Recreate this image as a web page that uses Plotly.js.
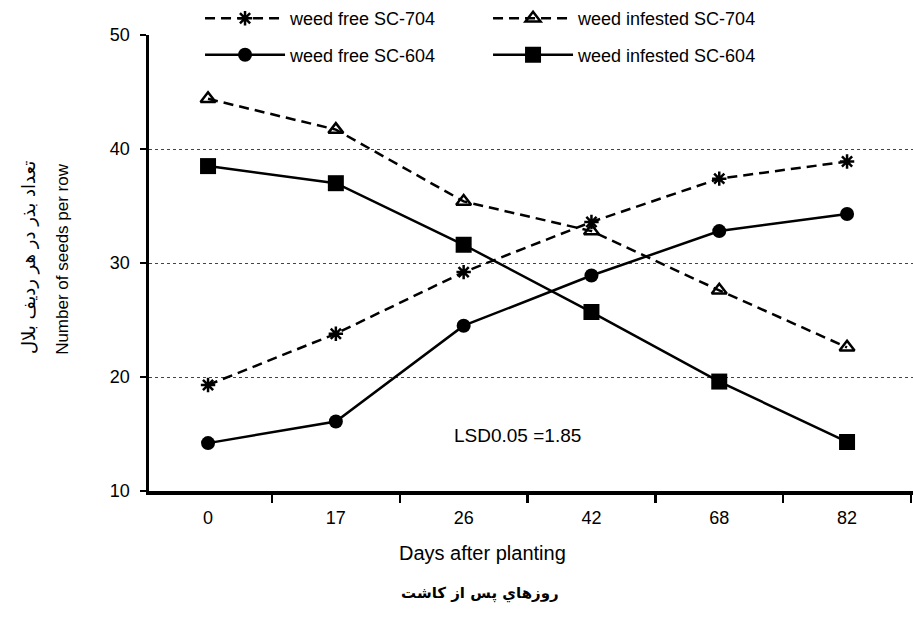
<!DOCTYPE html>
<html>
<head>
<meta charset="utf-8">
<script src="https://cdn.plot.ly/plotly-3.0.1.min.js"></script>
<style>html,body{margin:0;padding:0;background:#fff;}#chart{width:913px;height:618px;}</style>
</head>
<body>
<div id="chart"></div>
<script>
// Days after planting (categories)
const days = ['0', '17', '26', '42', '68', '82'];
// Number of seeds per row
const weedFreeSC704     = [19.3, 23.8, 29.2, 33.6, 37.4, 38.9];
const weedInfestedSC704 = [44.4, 41.7, 35.4, 32.8, 27.6, 22.6];
const weedFreeSC604     = [14.2, 16.1, 24.5, 28.9, 32.8, 34.3];
const weedInfestedSC604 = [38.5, 37.0, 31.6, 25.7, 19.6, 14.3];
const yTickVals = [10, 20, 30, 40, 50];

const F = 'Liberation Sans, Arial, sans-serif';
const FA = 'DejaVu Sans, sans-serif';
const DASH = '10px,6px';

const traces = [
  {x: days, y: weedFreeSC704, name: 'weed free SC-704', legend: 'legend', mode: 'lines+markers',
   line: {color: '#000', width: 2.5, dash: DASH},
   marker: {symbol: 'asterisk', size: 12, color: '#000', line: {color: '#000', width: 2.5}}},
  {x: days, y: weedInfestedSC704, name: 'weed infested SC-704', legend: 'legend', mode: 'lines+markers',
   line: {color: '#000', width: 2.5, dash: DASH},
   marker: {symbol: 'triangle-up-open', size: 13, color: '#000', line: {color: '#000', width: 2.5}}},
  {x: days, y: weedFreeSC604, name: 'weed free SC-604', legend: 'legend2', mode: 'lines+markers',
   line: {color: '#000', width: 2.5},
   marker: {symbol: 'circle', size: 14, color: '#000'}},
  {x: days, y: weedInfestedSC604, name: 'weed infested SC-604', legend: 'legend2', mode: 'lines+markers',
   line: {color: '#000', width: 2.5},
   marker: {symbol: 'square', size: 16, color: '#000'}}
];

const legendCommon = {
  orientation: 'h', xanchor: 'left', yanchor: 'middle',
  font: {family: F, size: 18, color: '#000'},
  bgcolor: 'rgba(0,0,0,0)', itemwidth: 80, entrywidth: 193, entrywidthmode: 'pixels',
  itemclick: false, itemdoubleclick: false
};

const layout = {
  width: 913, height: 618,
  margin: {l: 149, r: 0, t: 35, b: 127, pad: 0},
  paper_bgcolor: '#fff', plot_bgcolor: '#fff',
  showlegend: true,
  legend: Object.assign({}, legendCommon, {x: 0.0668, y: 1.037}),
  legend2: Object.assign({}, legendCommon, {x: 0.0668, y: 0.956}),
  xaxis: {
    type: 'category', range: [-0.462, 5.516],
    showline: true, linecolor: '#000', linewidth: 3.5,
    ticks: 'outside', ticklen: 8, tickwidth: 2.5, tickcolor: '#000',
    tickson: 'boundaries', showgrid: false, zeroline: false,
    tickfont: {family: F, size: 18, color: '#000'}, ticklabelstandoff: 8,
    fixedrange: true
  },
  yaxis: {
    range: [10, 50], tickvals: yTickVals,
    showline: true, linecolor: '#000', linewidth: 3.5,
    ticks: 'outside', ticklen: 6, tickwidth: 2.5, tickcolor: '#000',
    ticklabelstandoff: 6,
    showgrid: true, gridcolor: '#444', gridwidth: 1, griddash: 'dot',
    zeroline: false,
    tickfont: {family: F, size: 18, color: '#000'},
    fixedrange: true
  },
  annotations: [
    {text: 'Days after planting', xref: 'paper', yref: 'paper', x: 0.437, y: -0.136,
     xanchor: 'center', yanchor: 'middle', showarrow: false, font: {family: F, size: 20, color: '#000'}},
    {text: 'روزهاي پس از كاشت', xref: 'paper', yref: 'paper', x: 0.433, y: -0.224,
     xanchor: 'center', yanchor: 'middle', showarrow: false, font: {family: FA, size: 15, color: '#000', weight: 'bold'}},
    {text: 'Number of seeds per row', xref: 'paper', yref: 'paper', x: -0.1126, y: 0.509, textangle: -90,
     xanchor: 'center', yanchor: 'middle', showarrow: false, font: {family: F, size: 17, color: '#000'}},
    {text: 'تعداد بذر در هر ردیف بلال', xref: 'paper', yref: 'paper', x: -0.157, y: 0.511, textangle: -90,
     xanchor: 'center', yanchor: 'middle', showarrow: false, font: {family: FA, size: 18, color: '#000'}},
    {text: 'LSD0.05 =1.85', xref: 'paper', yref: 'paper', x: 0.482, y: 0.121,
     xanchor: 'center', yanchor: 'middle', showarrow: false, font: {family: F, size: 19, color: '#000'}}
  ]
};

Plotly.newPlot('chart', traces, layout, {displayModeBar: false, staticPlot: true});
</script>
</body>
</html>
